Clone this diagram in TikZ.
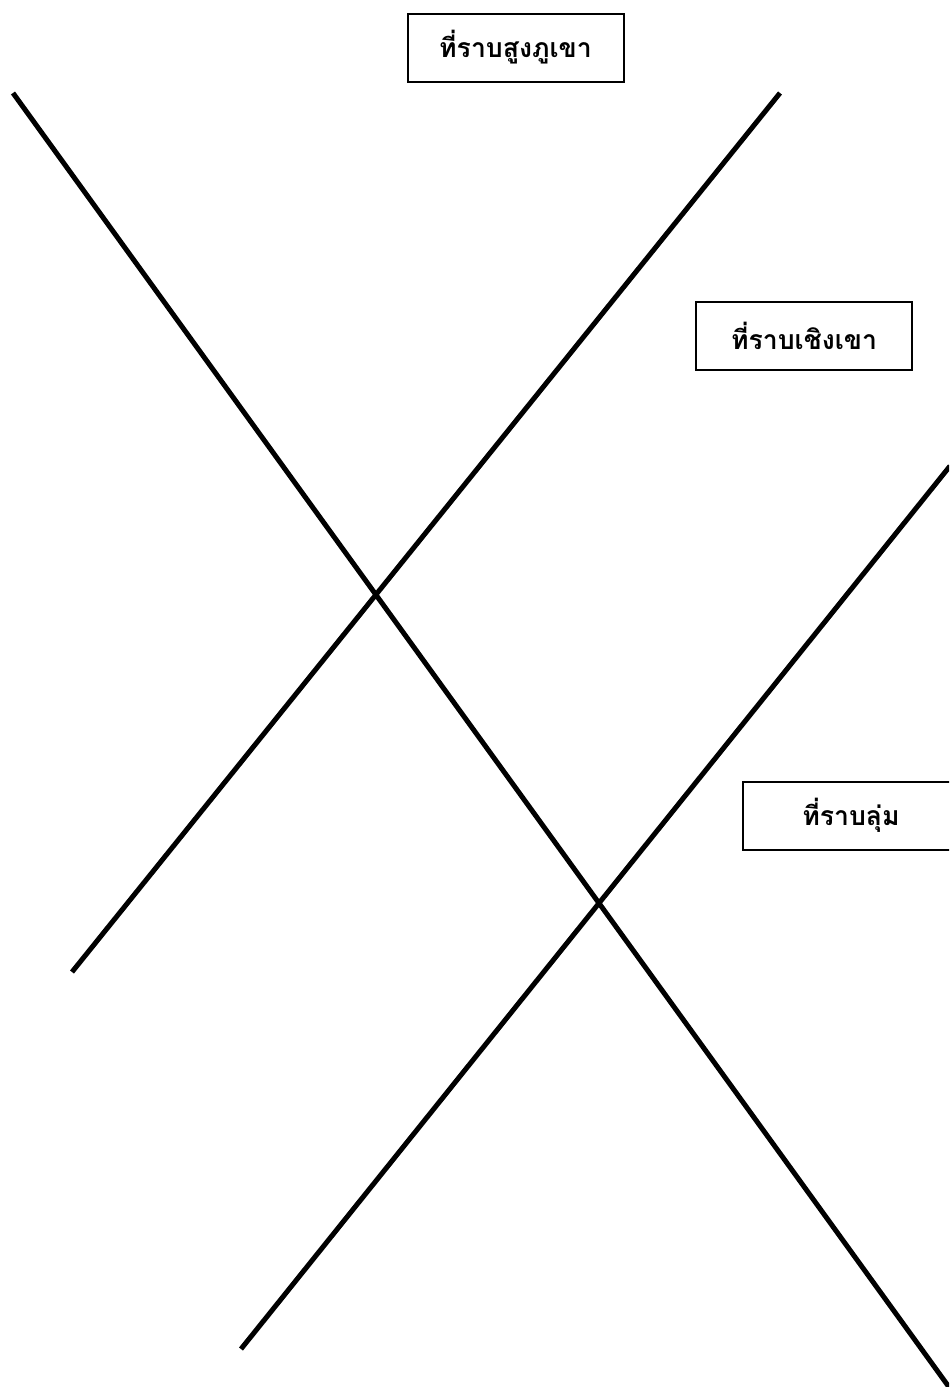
\documentclass[tikz,border=0pt]{standalone}
\usepackage{fontspec}
\newfontfamily\thaifont[Script=Thai]{Loma}
\usetikzlibrary{positioning}

\begin{document}
\begin{tikzpicture}[x=0.5pt,y=-0.5pt,
      zone/.style={draw,line width=1pt,minimum width=108pt,minimum height=34pt,
                   inner sep=0pt,align=center,font=\thaifont\bfseries\fontsize{13.3}{16}\selectfont},
      ridge/.style={line width=2.5pt}]
    \useasboundingbox (0,0) rectangle (949,1387);
    \clip (0,0) rectangle (949,1387);
    % the three slopes
    \coordinate (a1) at (13,93);   \coordinate (a2) at (962,1405);
    \coordinate (b1) at (780,93);  \coordinate (b2) at (72,972);
    \coordinate (c1) at (950,466); \coordinate (c2) at (241,1349);
    \draw[ridge] (a1) -- (a2);
    \draw[ridge] (b1) -- (b2);
    \draw[ridge] (c1) -- (c2);
    % labels
    \node[zone] (high) at (515.5,47.5) {ที่ราบสูงภูเขา};
    \node[zone] (foot) at (804,336) {ที่ราบเชิงเขา};
    \node[zone] (low) at (851,815.5) {ที่ราบลุ่ม};
  \end{tikzpicture}
\end{document}
